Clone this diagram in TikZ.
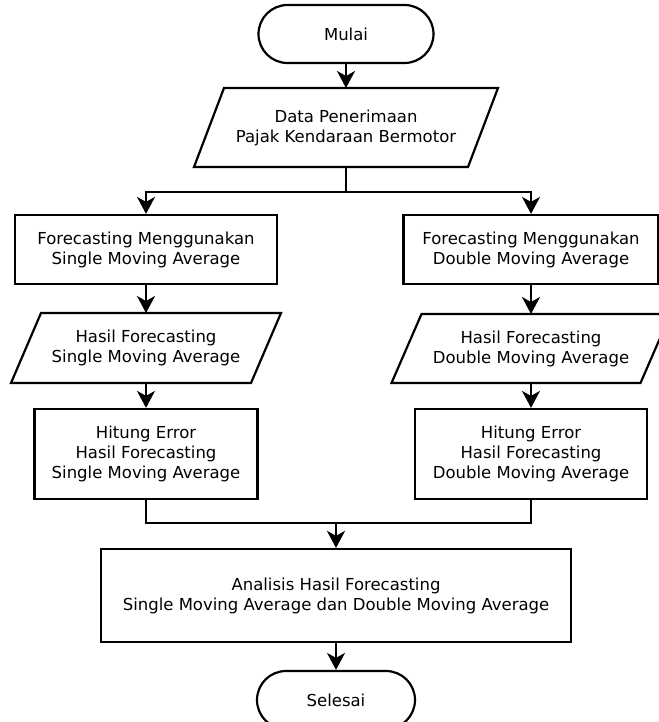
\documentclass[tikz,border=0pt]{standalone}
\usepackage{fontspec}
\setmainfont{DejaVu Sans}
\usetikzlibrary{arrows.meta,shapes.misc}

\begin{document}
\begin{tikzpicture}[x=1pt,y=-1pt,
    every node/.style={font=\fontsize{16.5}{20}\selectfont, align=center, inner sep=0pt, line width=2.2pt},
    terminal/.style={draw, rounded rectangle, minimum width=158pt, minimum height=58pt},
    process/.style={draw, rectangle},
    io/.style={rectangle, outer sep=0pt, append after command={\pgfextra{\let\iobase\tikzlastnode
        \draw[line width=2.2pt] ([xshift=15pt]\iobase.north west) -- ([xshift=15pt]\iobase.north east)
          -- ([xshift=-15pt]\iobase.south east) -- ([xshift=-15pt]\iobase.south west) -- cycle;}}},
    flow/.style={-{Stealth[length=17pt,width=18pt,inset=5pt]}, line width=2.2pt}]
    \useasboundingbox (0,0) rectangle (658,722);
    % start and input
    \node[terminal, minimum width=175pt] (mulai) at (346,34) {Mulai};
    \node[io, minimum width=274pt, minimum height=79pt] (data) at (346,127.5) {Data Penerimaan\\Pajak Kendaraan Bermotor};
    % single moving average
    \node[process, minimum width=262pt, minimum height=69pt] (smaL) at (146,249.5) {Forecasting Menggunakan\\Single Moving Average};
    \node[io, minimum width=240pt, minimum height=70pt] (hasilL) at (146,348) {Hasil Forecasting\\Single Moving Average};
    \node[process, minimum width=223pt, minimum height=90pt] (errL) at (146,454) {Hitung Error\\Hasil Forecasting\\Single Moving Average};
    % double moving average
    \node[process, minimum width=255pt, minimum height=69pt] (dmaR) at (531,249.5) {Forecasting Menggunakan\\Double Moving Average};
    \node[io, minimum width=249pt, minimum height=69pt] (hasilR) at (531,348.5) {Hasil Forecasting\\Double Moving Average};
    \node[process, minimum width=232pt, minimum height=90pt] (errR) at (531,454) {Hitung Error\\Hasil Forecasting\\Double Moving Average};
    % analysis and end
    \node[process, minimum width=470pt, minimum height=93pt] (analisis) at (336,595.5) {Analisis Hasil Forecasting\\Single Moving Average dan Double Moving Average};
    \node[terminal] (selesai) at (336,700) {Selesai};
    \coordinate (split) at (346,192);
    \coordinate (merge) at (336,523);

    \draw[flow] (mulai.south) -- (data.north);
    \draw[line width=2.2pt] (data.south) -- (split);
    \draw[flow] (split) -| (smaL.north);
    \draw[flow] (split) -| (dmaR.north);
    \draw[flow] (smaL.south) -- (hasilL.north);
    \draw[flow] (hasilL.south) -- (errL.north);
    \draw[flow] (dmaR.south) -- (hasilR.north);
    \draw[flow] (hasilR.south) -- (errR.north);
    \draw[line width=2.2pt] (errL.south) |- (merge);
    \draw[line width=2.2pt] (errR.south) |- (merge);
    \draw[flow] (merge) -- (analisis.north);
    \draw[flow] (analisis.south) -- (selesai.north);
\end{tikzpicture}
\end{document}
